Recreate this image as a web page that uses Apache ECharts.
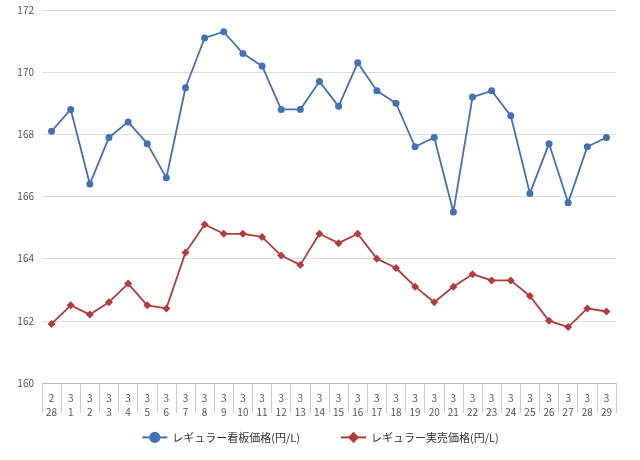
<!DOCTYPE html>
<html>
<head>
<meta charset="utf-8">
<script src="https://cdn.jsdelivr.net/npm/echarts@6/dist/echarts.min.js"></script>
<style>html,body{margin:0;padding:0;background:#fff}#main{width:640px;height:460px}</style>
</head>
<body>
<div id="main"></div>
<script>
var categories = ['2\n28','3\n1','3\n2','3\n3','3\n4','3\n5','3\n6','3\n7','3\n8','3\n9','3\n10','3\n11','3\n12','3\n13','3\n14','3\n15','3\n16','3\n17','3\n18','3\n19','3\n20','3\n21','3\n22','3\n23','3\n24','3\n25','3\n26','3\n27','3\n28','3\n29'];
var kanban = [168.1,168.8,166.4,167.9,168.4,167.7,166.6,169.5,171.1,171.3,170.6,170.2,168.8,168.8,169.7,168.9,170.3,169.4,169.0,167.6,167.9,165.5,169.2,169.4,168.6,166.1,167.7,165.8,167.6,167.9];
var jitsubai = [161.9,162.5,162.2,162.6,163.2,162.5,162.4,164.2,165.1,164.8,164.8,164.7,164.1,163.8,164.8,164.5,164.8,164.0,163.7,163.1,162.6,163.1,163.5,163.3,163.3,162.8,162.0,161.8,162.4,162.3];

var myChart = echarts.init(document.getElementById('main'));
var option = {
  animation: false,
  textStyle: { fontFamily: 'Noto Sans CJK JP' },
  grid: { left: 42, right: 24, top: 10, bottom: 77 },
  legend: {
    bottom: 12,
    itemGap: 40,
    textStyle: { fontSize: 11, color: '#333' },
    data: ['レギュラー看板価格(円/L)', 'レギュラー実売価格(円/L)']
  },
  xAxis: {
    type: 'category',
    data: categories,
    axisLine: { lineStyle: { color: '#bbb' } },
    axisTick: { show: true, length: 30, lineStyle: { color: '#ccc' } },
    axisLabel: { color: '#555', fontSize: 10, lineHeight: 14, interval: 0 }
  },
  yAxis: {
    type: 'value',
    min: 160, max: 172, interval: 2,
    axisLabel: { color: '#555', fontSize: 10 },
    splitLine: { lineStyle: { color: '#ddd' } }
  },
  series: [
    { name: 'レギュラー看板価格(円/L)', type: 'line', data: kanban,
      symbol: 'circle', symbolSize: 7,
      itemStyle: { color: '#4170b3' }, lineStyle: { width: 1.8, color: '#4170b3' } },
    { name: 'レギュラー実売価格(円/L)', type: 'line', data: jitsubai,
      symbol: 'diamond', symbolSize: 8,
      itemStyle: { color: '#b23c3c' }, lineStyle: { width: 1.8, color: '#b23c3c' } }
  ]
};
myChart.setOption(option);
</script>
</body>
</html>
